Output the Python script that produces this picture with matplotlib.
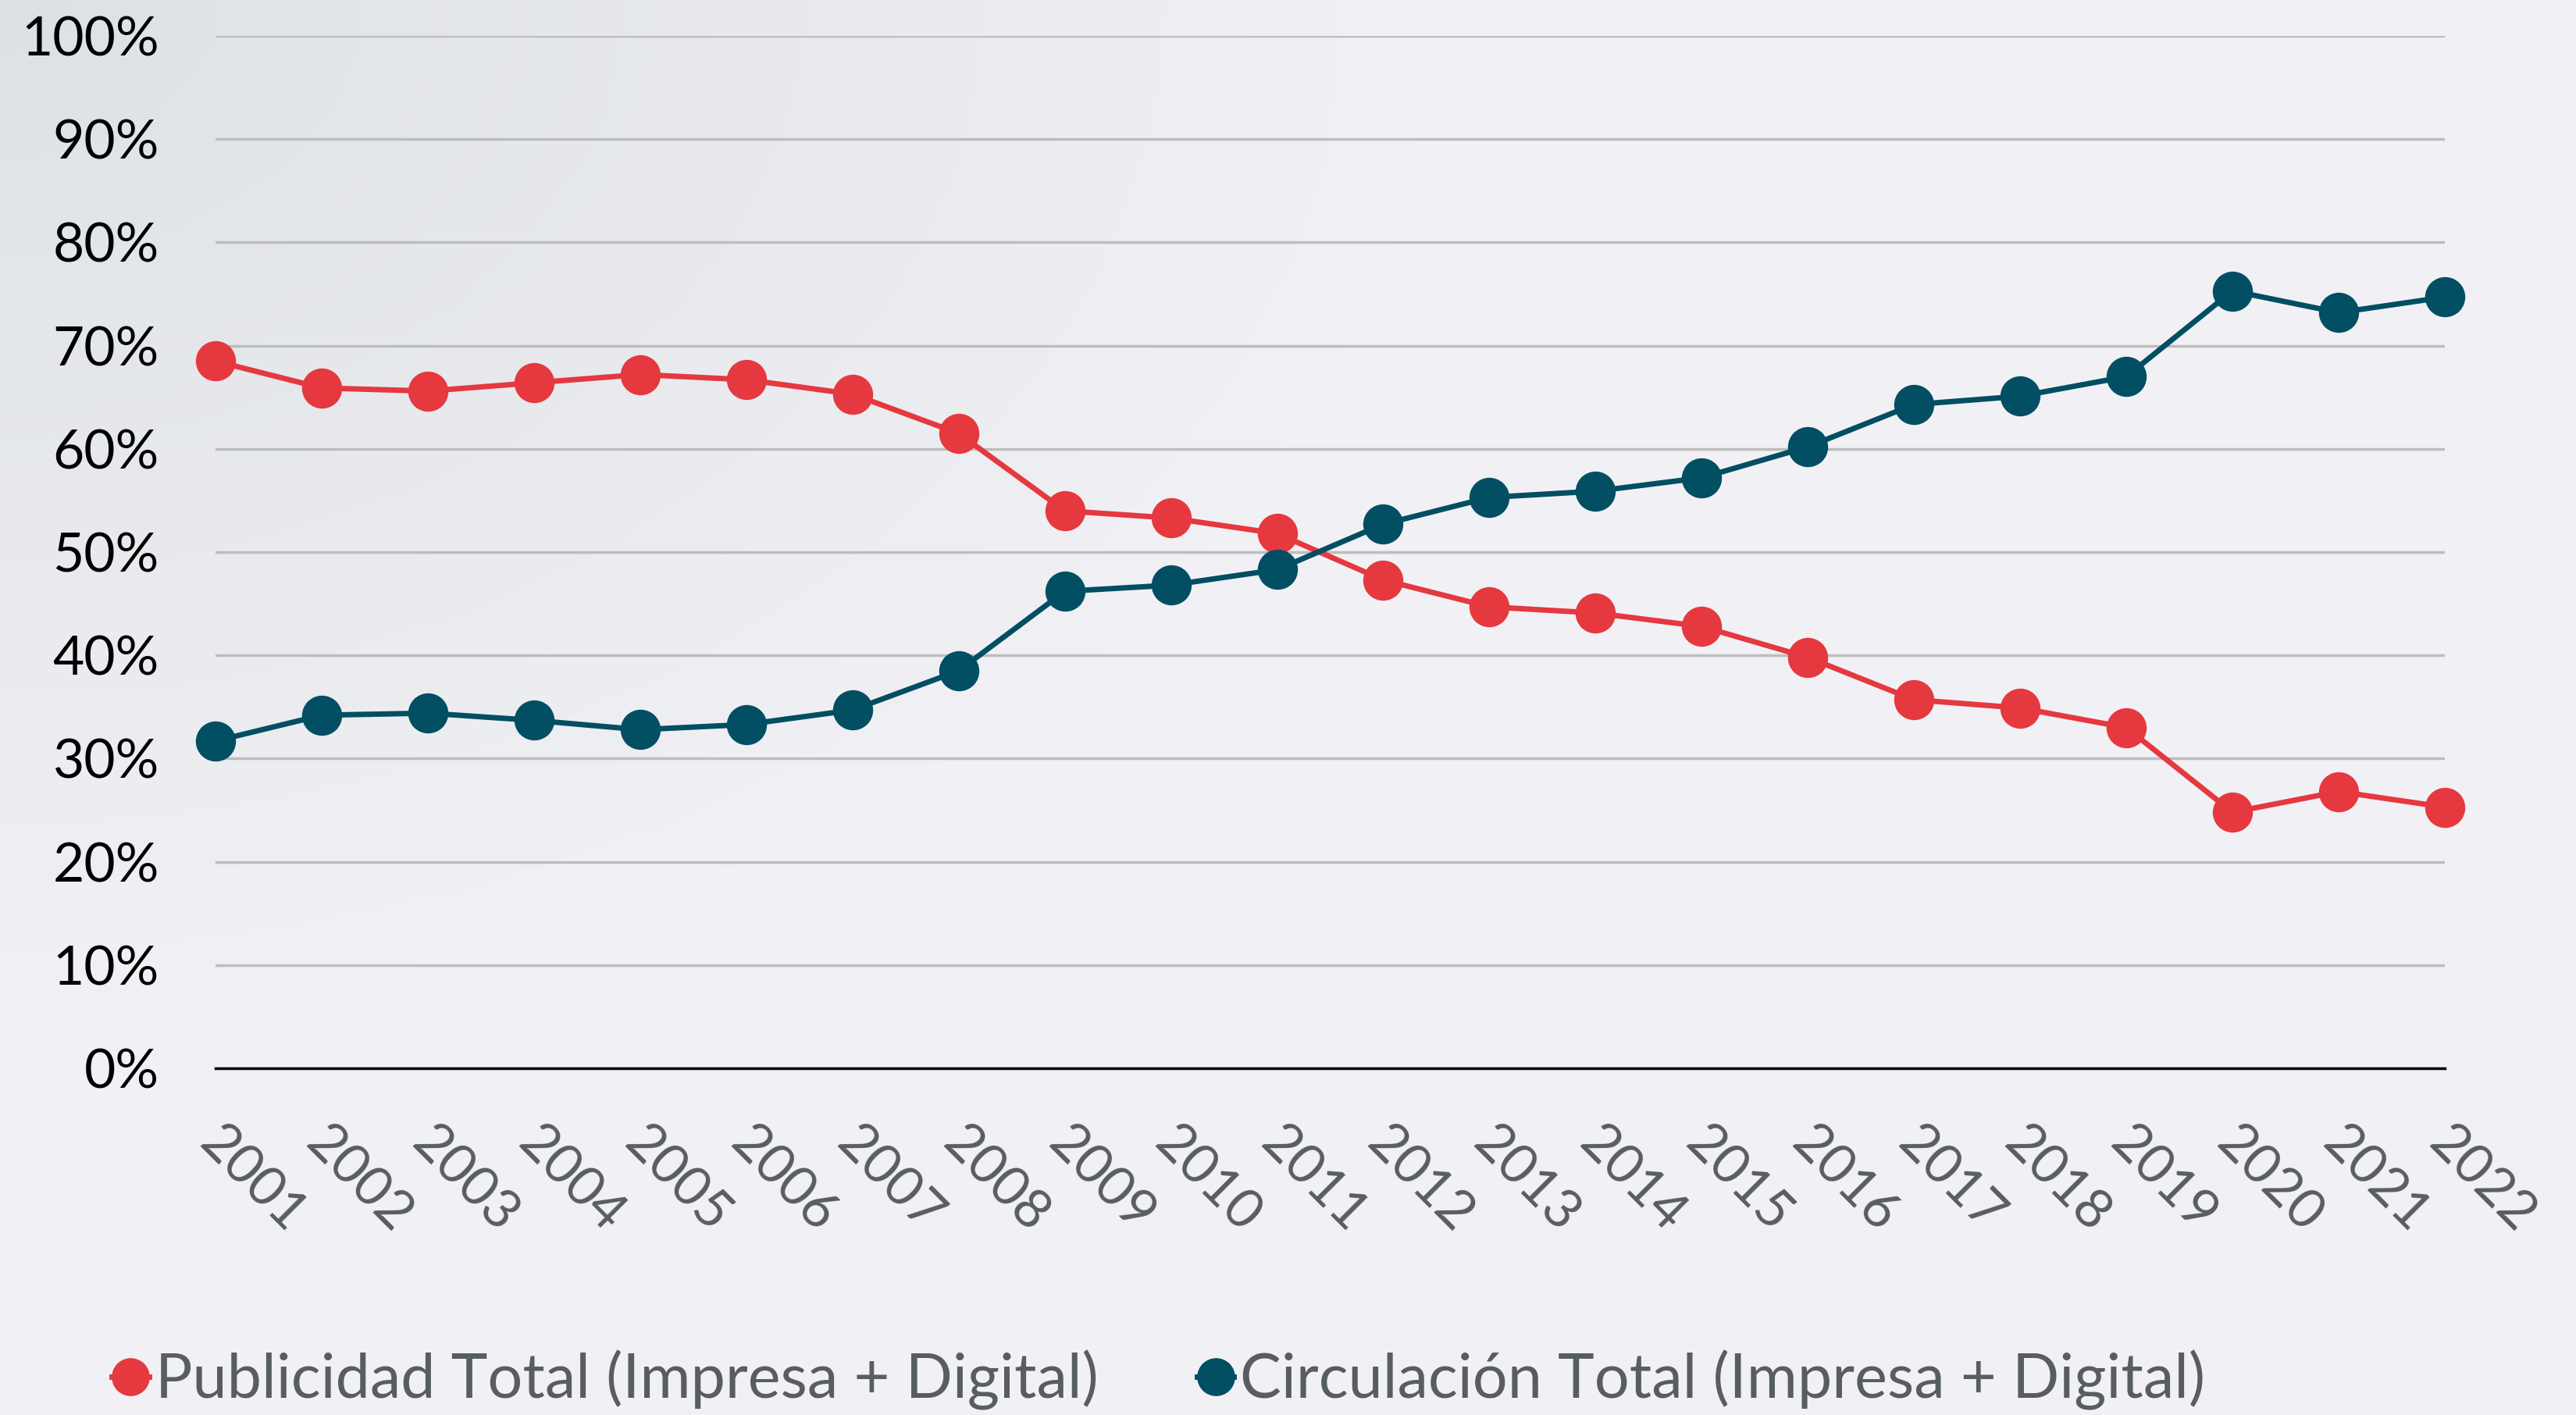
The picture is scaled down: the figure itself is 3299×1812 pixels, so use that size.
import numpy as np
import matplotlib.pyplot as plt
import matplotlib.transforms as mtransforms
from matplotlib.lines import Line2D

years = list(range(2001, 2023))
publicidad = [68.5, 65.9, 65.6, 66.4, 67.2, 66.7, 65.3, 61.5, 54.0, 53.3, 51.8,
              47.3, 44.7, 44.1, 42.8, 39.8, 35.7, 34.9, 33.0, 24.8, 26.8, 25.3]
circulacion = [31.7, 34.2, 34.4, 33.7, 32.8, 33.3, 34.7, 38.5, 46.2, 46.8, 48.3,
               52.7, 55.3, 55.9, 57.2, 60.2, 64.3, 65.1, 67.0, 75.3, 73.2, 74.7]
labels = ['Publicidad Total (Impresa + Digital)', 'Circulación Total (Impresa + Digital)']

RED = '#E5383F'
TEAL = '#024E63'
TXT = '#575D63'

plt.rcParams['font.family'] = ['Lato', 'DejaVu Sans']

fig = plt.figure(figsize=(32.99, 18.12), dpi=100)

# soft grey background, a bit darker in the top-left corner
bg = fig.add_axes([0, 0, 1, 1], zorder=-10)
yy, xx = np.mgrid[1:0:200j, 0:1:360j]
w = np.clip(1 - np.hypot(xx * 1.8, (1 - yy) * 1.4), 0, 1)[..., None]
light = np.array([0xF1, 0xF1, 0xF5]) / 255
dark = np.array([0xDD, 0xE1, 0xE5]) / 255
bg.imshow(light * (1 - w) + dark * w, aspect='auto', extent=[0, 1, 0, 1])
bg.axis('off')

ax = fig.add_axes([276 / 3299, 1 - 1368 / 1812, (3131 - 276) / 3299, (1368 - 46) / 1812])
ax.patch.set_alpha(0)

ax.plot(years, publicidad, color=RED, lw=5, marker='o', ms=36, clip_on=False, zorder=3)
ax.plot(years, circulacion, color=TEAL, lw=5, marker='o', ms=36, clip_on=False, zorder=3)

ax.set_xlim(2001, 2022)
ax.set_ylim(0, 100)
ax.set_yticks(range(0, 101, 10))
ax.set_yticklabels([f'{v}%' for v in range(0, 101, 10)])
ax.set_xticks(years)
ax.set_xticklabels([str(y) for y in years], rotation=-45, ha='left', va='top',
                   rotation_mode='anchor', color=TXT)
ax.tick_params(axis='y', length=0, pad=52, labelsize=50, labelcolor='black')
ax.tick_params(axis='x', length=0, pad=46, labelsize=50)
# nudge the slanted year labels a little to the right
shift = mtransforms.ScaledTranslation(12 / 100, 0, fig.dpi_scale_trans)
for lab in ax.get_xticklabels():
    lab.set_transform(lab.get_transform() + shift)

ax.grid(axis='y', color='#BDBDBD', lw=2.5)
ax.set_axisbelow(True)
for s in ['top', 'right', 'left']:
    ax.spines[s].set_visible(False)
ax.spines['bottom'].set_color('black')
ax.spines['bottom'].set_linewidth(2.5)

handles = [Line2D([], [], color=RED, lw=5, marker='o', ms=34),
           Line2D([], [], color=TEAL, lw=5, marker='o', ms=34)]
fig.legend(handles, labels, loc='lower left', bbox_to_anchor=(72 / 3299, -0.036),
           ncol=2, frameon=False, fontsize=57, handlelength=0.6,
           handletextpad=0.1, columnspacing=1.6, labelcolor=TXT)

fig.savefig('out.png', dpi=100)
